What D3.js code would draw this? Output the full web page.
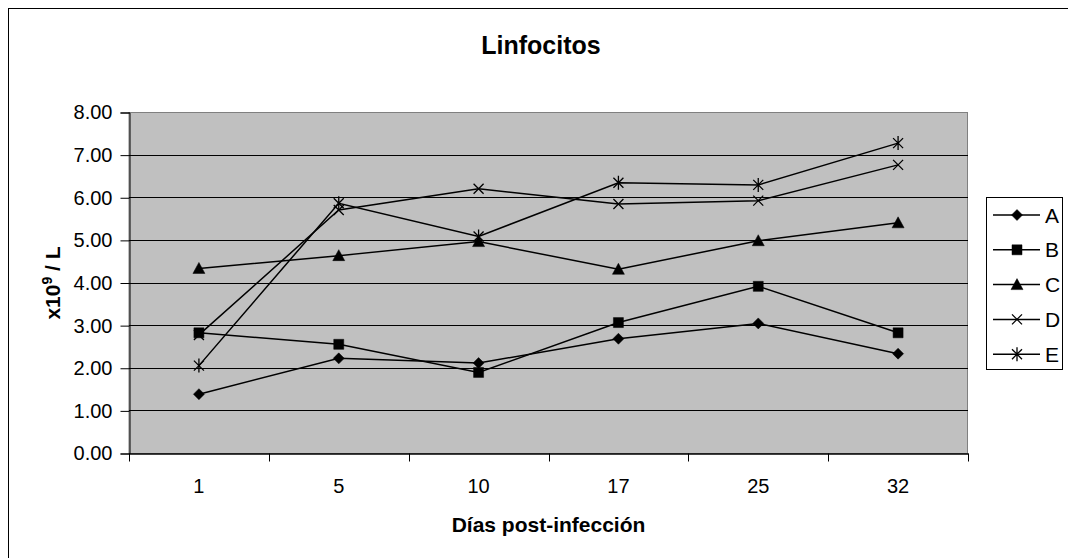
<!DOCTYPE html>
<html>
<head>
<meta charset="utf-8">
<script src="https://cdn.jsdelivr.net/npm/d3@7"></script>
<style>
  body { margin: 0; background: #fff; }
  svg text { font-family: "Liberation Sans", Arial, sans-serif; fill: #000; }
</style>
</head>
<body>
<div id="chart"></div>
<script>
// data
var categories = ["1", "5", "10", "17", "25", "32"];
var seriesNames = ["A", "B", "C", "D", "E"];
var valuesA = [1.38, 2.22, 2.11, 2.68, 3.04, 2.33];
var valuesB = [2.82, 2.55, 1.89, 3.06, 3.91, 2.82];
var valuesC = [4.33, 4.63, 4.96, 4.31, 4.98, 5.40];
var valuesD = [2.77, 5.70, 6.20, 5.84, 5.92, 6.76];
var valuesE = [2.05, 5.86, 5.08, 6.34, 6.29, 7.27];
var yTicks = [0, 1, 2, 3, 4, 5, 6, 7, 8];

var series = [
  {name: seriesNames[0], values: valuesA, marker: "diamond"},
  {name: seriesNames[1], values: valuesB, marker: "square"},
  {name: seriesNames[2], values: valuesC, marker: "triangle"},
  {name: seriesNames[3], values: valuesD, marker: "x"},
  {name: seriesNames[4], values: valuesE, marker: "star"}
];

var width = 1068, height = 558;
var plot = {left: 129, top: 112, right: 968, bottom: 453};

var svg = d3.select("#chart").append("svg")
  .attr("width", width)
  .attr("height", height);

// outer chart border (right/bottom run off the picture)
svg.append("rect")
  .attr("x", 8.5).attr("y", 8.5)
  .attr("width", 1080).attr("height", 570)
  .attr("fill", "#fff").attr("stroke", "#000").attr("stroke-width", 1);

// Scales
var xScale = d3.scaleBand()
  .domain(categories)
  .range([plot.left, plot.right])
  .padding(0);
var yScale = d3.scaleLinear()
  .domain([0, 8])
  .range([plot.bottom, plot.top]);

// plot area
svg.append("rect")
  .attr("x", plot.left).attr("y", plot.top + 0.5)
  .attr("width", plot.right - plot.left - 0.5)
  .attr("height", plot.bottom - plot.top)
  .attr("fill", "#c0c0c0")
  .attr("stroke", "#808080").attr("stroke-width", 1);

// gridlines
svg.append("g")
  .selectAll("line")
  .data(yTicks.filter(function(d) { return d > 0 && d < 8; }))
  .join("line")
  .attr("x1", plot.left).attr("x2", plot.right)
  .attr("y1", function(d) { return Math.round(yScale(d)) + 0.5; })
  .attr("y2", function(d) { return Math.round(yScale(d)) + 0.5; })
  .attr("stroke", "#000").attr("stroke-width", 1);

// y axis
var yAxis = svg.append("g")
  .attr("transform", "translate(" + (plot.left + 0.5) + ",0.5)")
  .call(d3.axisLeft(yScale).tickValues(yTicks).tickFormat(d3.format(".2f")).tickSize(9).tickPadding(8));
yAxis.select(".domain").attr("stroke", "#000");
yAxis.selectAll(".tick line").attr("stroke", "#000");
yAxis.selectAll("text").attr("font-size", 20).attr("font-family", "Liberation Sans, Arial, sans-serif");

// x axis: labels at band centres, ticks at band edges
var xAxis = svg.append("g")
  .attr("transform", "translate(0," + (plot.bottom + 0.5) + ")")
  .call(d3.axisBottom(xScale).tickSize(0).tickPadding(25));
xAxis.select(".domain").attr("stroke", "#000").attr("stroke-width", 1.5);
xAxis.selectAll("text").attr("font-size", 20).attr("font-family", "Liberation Sans, Arial, sans-serif");
var edges = categories.map(function(c) { return xScale(c); }).concat([xScale.range()[1]]);
xAxis.selectAll(".edge")
  .data(edges)
  .join("line")
  .attr("class", "edge")
  .attr("x1", function(d) { return Math.round(d) + 0.5; })
  .attr("x2", function(d) { return Math.round(d) + 0.5; })
  .attr("y1", 0).attr("y2", 8)
  .attr("stroke", "#000");

// markers
var markerPaths = {
  diamond: "M0,-5.5L5.5,0L0,5.5L-5.5,0Z",
  square: "M-5,-5H5V5H-5Z",
  triangle: "M0,-6L6,5H-6Z",
  x: "M-5,-5L5,5M-5,5L5,-5",
  star: "M-5,-5L5,5M-5,5L5,-5M0,-7V7"
};
function drawMarker(sel, type) {
  var filled = type === "diamond" || type === "square" || type === "triangle";
  sel.attr("d", markerPaths[type])
    .attr("fill", filled ? "#000" : "none")
    .attr("stroke", "#000")
    .attr("stroke-width", filled ? 0.5 : 1.3);
}

var line = d3.line()
  .x(function(d, i) { return xScale(categories[i]) + xScale.bandwidth() / 2; })
  .y(function(d) { return yScale(d); });

series.forEach(function(s) {
  var g = svg.append("g");
  g.append("path")
    .datum(s.values)
    .attr("d", line)
    .attr("fill", "none")
    .attr("stroke", "#000")
    .attr("stroke-width", 1.5);
  g.selectAll(".m")
    .data(s.values)
    .join("path")
    .attr("class", "m")
    .attr("transform", function(d, i) {
      return "translate(" + (xScale(categories[i]) + xScale.bandwidth() / 2) + "," + yScale(d) + ")";
    })
    .call(drawMarker, s.marker);
});

// title
svg.append("text")
  .attr("x", 541).attr("y", 54)
  .attr("text-anchor", "middle")
  .attr("font-size", 25).attr("font-weight", "bold")
  .text("Linfocitos");

// x axis title
svg.append("text")
  .attr("x", (plot.left + plot.right) / 2).attr("y", 532)
  .attr("text-anchor", "middle")
  .attr("font-size", 21).attr("font-weight", "bold")
  .text("Días post-infección");

// y axis title
var yTitle = svg.append("text")
  .attr("transform", "translate(60,283) rotate(-90)")
  .attr("text-anchor", "middle")
  .attr("font-size", 21).attr("font-weight", "bold");
yTitle.append("tspan").text("x10");
yTitle.append("tspan").attr("font-size", 14).attr("dy", -8).text("9");
yTitle.append("tspan").attr("dy", 8).text(" / L");

// legend
var legend = svg.append("g");
legend.append("rect")
  .attr("x", 986.5).attr("y", 197.5)
  .attr("width", 76).attr("height", 172)
  .attr("fill", "#fff").attr("stroke", "#000");
var items = legend.selectAll(".item")
  .data(series)
  .join("g")
  .attr("class", "item")
  .attr("transform", function(d, i) { return "translate(0," + (215 + i * 34.8) + ")"; });
items.append("line")
  .attr("x1", 993).attr("x2", 1040)
  .attr("y1", 0).attr("y2", 0)
  .attr("stroke", "#000").attr("stroke-width", 1.5);
items.append("path")
  .attr("transform", "translate(1017,0)")
  .each(function(d) { d3.select(this).call(drawMarker, d.marker); });
items.append("text")
  .attr("x", 1045).attr("y", 7.5)
  .attr("font-size", 21)
  .text(function(d) { return d.name; });
</script>
</body>
</html>
